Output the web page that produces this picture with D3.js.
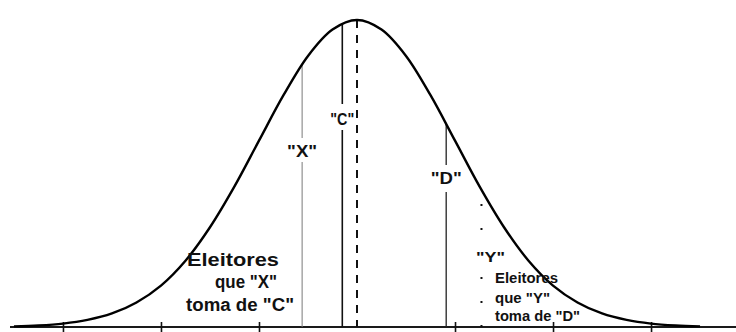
<!DOCTYPE html>
<html>
<head>
<meta charset="utf-8">
<script src="https://cdn.jsdelivr.net/npm/d3@7"></script>
<style>
  html, body { margin: 0; padding: 0; background: #fff; }
  svg { display: block; }
  text { font-family: "Liberation Sans", Arial, Helvetica, sans-serif; font-weight: bold; fill: #111; }
</style>
</head>
<body>
<svg id="chart" width="736" height="332"></svg>
<script>
// ---- data ----
// curve sample positions (in standard deviations) and relative heights (peak = 1)
const curveZ = [-3.5,-3.25,-3,-2.75,-2.5,-2.25,-2,-1.75,-1.5,-1.25,-1,-0.75,-0.5,-0.25,0,
                0.25,0.5,0.75,1,1.25,1.5,1.75,2,2.25,2.5,2.75,3,3.25,3.5];
const curveH = [0.002,0.005,0.011,0.023,0.044,0.080,0.135,0.216,0.325,0.458,0.607,0.755,0.883,0.969,1,
                0.969,0.883,0.755,0.607,0.458,0.325,0.216,0.135,0.080,0.044,0.023,0.011,0.005,0.002];
// axis ticks (standard deviations)
const tickValues = [-3, -2, -1, 1, 2, 3];
// position markers
const markerNames = ["C", "X", "D", "Y"];
const markerZ = [-0.15, -0.56, 0.91, 1.27];
const markerH = [0.989, 0.855, 0.661, 0.446];
// annotation texts
const leftNote = ["Eleitores", "que \"X\"", "toma de \"C\""];
const rightNote = ["Eleitores", "que \"Y\"", "toma de \"D\""];

// ---- scales ----
const svg = d3.select("#chart");
svg.append("rect").attr("width", 736).attr("height", 332).attr("fill", "#fff");
const x = d3.scaleLinear().domain([-3.52, 3.52]).range([12, 702]);
const y = d3.scaleLinear().domain([0, 1]).range([327, 20]);

// ---- axis ----
svg.append("line")
  .attr("x1", 10).attr("x2", 736).attr("y1", y(0)).attr("y2", y(0))
  .attr("stroke", "#1a1a1a").attr("stroke-width", 2);
const axis = svg.append("g").attr("transform", `translate(0,${y(0) - 5})`)
  .call(d3.axisBottom(x).tickValues(tickValues).tickSize(10).tickFormat(""));
axis.select(".domain").remove();
axis.selectAll(".tick line").attr("stroke", "#111").attr("stroke-width", 1.6);

// ---- mean dashed line ----
svg.append("line")
  .attr("x1", x(0)).attr("x2", x(0)).attr("y1", y(1)).attr("y2", y(0))
  .attr("stroke", "#111").attr("stroke-width", 2).attr("stroke-dasharray", "8 7");

// ---- marker lines ----
const styles = {
  C: {stroke: "#111", w: 1.6, gap: [104, 130]},
  X: {stroke: "#7a7a7a", w: 1, gap: [138, 162]},
  D: {stroke: "#222", w: 1.3, gap: [165, 192]}
};
markerNames.forEach((n, i) => {
  const xp = x(markerZ[i]);
  if (n === "Y") {
    [[204, 241], [277, 327]].forEach(s => {
      svg.append("line").attr("x1", xp).attr("x2", xp).attr("y1", s[0]).attr("y2", s[1])
        .attr("stroke", "#111").attr("stroke-width", 2)
        .attr("stroke-dasharray", "2 22");
    });
  } else {
    const st = styles[n];
    [[y(markerH[i]), st.gap[0]], [st.gap[1], y(0)]].forEach(s => {
      svg.append("line").attr("x1", xp).attr("x2", xp).attr("y1", s[0]).attr("y2", s[1])
        .attr("stroke", st.stroke).attr("stroke-width", st.w);
    });
  }
});

// ---- curve ----
const line = d3.line().x((d, i) => x(curveZ[i])).y(d => y(d)).curve(d3.curveCatmullRom);
svg.append("path").datum(curveH).attr("d", line)
  .attr("fill", "none").attr("stroke", "#000").attr("stroke-width", 2.4);

// ---- marker labels ----
const labelCfg = {
  C: {dx: 0, yb: 125, fs: 17, len: 24},
  X: {dx: 0, yb: 157, fs: 17, len: 30},
  D: {dx: 0, yb: 184, fs: 16, len: 31},
  Y: {dx: 9, yb: 262, fs: 15, len: 29}
};
markerNames.forEach((n, i) => {
  const c = labelCfg[n];
  svg.append("text").attr("x", x(markerZ[i]) + c.dx).attr("y", c.yb)
    .attr("text-anchor", "middle").attr("font-size", c.fs)
    .attr("textLength", c.len).attr("lengthAdjust", "spacingAndGlyphs")
    .text(`"${n}"`);
});

// ---- annotations ----
const leftX = [187, 215, 186], leftY = [266, 288, 311], leftLen = [92, 62, 108];
leftNote.forEach((t, i) => {
  svg.append("text").attr("x", leftX[i]).attr("y", leftY[i]).attr("font-size", 18)
    .attr("textLength", leftLen[i]).attr("lengthAdjust", "spacingAndGlyphs").text(t);
});
const rightY = [283, 303, 321], rightLen = [63, 55, 85];
rightNote.forEach((t, i) => {
  svg.append("text").attr("x", 495).attr("y", rightY[i]).attr("font-size", 14.5)
    .attr("textLength", rightLen[i]).attr("lengthAdjust", "spacingAndGlyphs").text(t);
});
</script>
</body>
</html>
